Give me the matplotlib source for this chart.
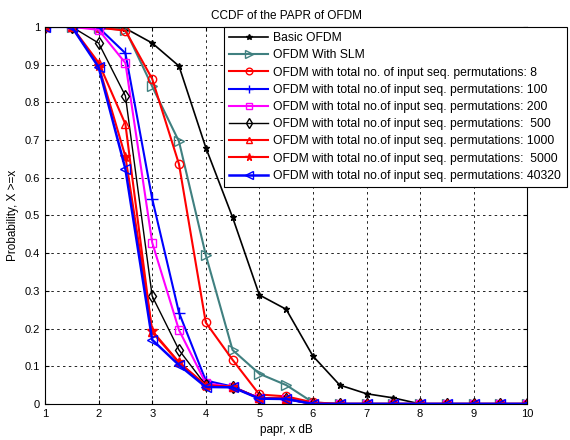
import matplotlib
matplotlib.use("Agg")
import matplotlib.pyplot as plt

x = [1, 1.5, 2, 2.5, 3, 3.5, 4, 4.5, 5, 5.5, 6, 6.5, 7, 7.5, 8, 8.5, 9, 9.5, 10]

basic = [1, 1, 1, 0.996, 0.957, 0.896, 0.68, 0.495, 0.289, 0.251, 0.127, 0.05, 0.027, 0.016, 0, 0, 0, 0, 0]
slm = [1, 1, 0.997, 0.992, 0.842, 0.696, 0.395, 0.143, 0.08, 0.05, 0.004, 0, 0, 0, 0, 0, 0, 0, 0]
p8 = [1, 1, 0.998, 0.99, 0.862, 0.636, 0.216, 0.117, 0.025, 0.02, 0.004, 0, 0, 0, 0, 0, 0, 0, 0]
p100 = [1, 1, 0.998, 0.93, 0.544, 0.242, 0.062, 0.046, 0.015, 0.013, 0, 0, 0, 0, 0, 0, 0, 0, 0]
p200 = [1, 1, 0.992, 0.904, 0.428, 0.196, 0.055, 0.045, 0.015, 0.014, 0, 0, 0, 0, 0, 0, 0, 0, 0]
p500 = [1, 1, 0.957, 0.817, 0.286, 0.143, 0.05, 0.045, 0.015, 0.014, 0, 0, 0, 0, 0, 0, 0, 0, 0]
p1000 = [1, 1, 0.905, 0.742, 0.19, 0.11, 0.05, 0.045, 0.015, 0.014, 0, 0, 0, 0, 0, 0, 0, 0, 0]
p5000 = [1, 1, 0.897, 0.656, 0.194, 0.11, 0.048, 0.045, 0.015, 0.014, 0, 0, 0, 0, 0, 0, 0, 0, 0]
p40320 = [1, 1, 0.893, 0.623, 0.17, 0.103, 0.045, 0.044, 0.014, 0.013, 0, 0, 0, 0, 0, 0, 0, 0, 0]

labels = ["Basic OFDM", "OFDM With SLM",
          "OFDM with total no. of input seq. permutations: 8",
          "OFDM with total no.of input seq. permutations: 100",
          "OFDM with total no.of input seq. permutations: 200",
          "OFDM with total no.of input seq. permutations:  500",
          "OFDM with total no.of input seq. permutations: 1000",
          "OFDM with total no.of input seq. permutations:  5000",
          "OFDM with total no.of input seq. permutations: 40320"]

plt.rcParams['font.family'] = ['Liberation Sans', 'DejaVu Sans']
fig = plt.figure(figsize=(5.7, 4.4), dpi=100)
ax = fig.add_axes([0.079, 0.082, 0.846, 0.857])

teal = '#408080'
series = [
    (basic, dict(color='k', marker='*', ms=5, lw=1.2)),
    (slm, dict(color=teal, marker='>', ms=7, mfc='none', lw=1.5)),
    (p8, dict(color='r', marker='o', ms=6, mfc='none', lw=1.5)),
    (p100, dict(color='b', marker='+', ms=8, lw=1.5)),
    (p200, dict(color='magenta', marker='s', ms=6, mfc='none', lw=1.5)),
    (p500, dict(color='k', marker='d', ms=6, mfc='none', lw=1.0)),
    (p1000, dict(color='r', marker='^', ms=6, mfc='none', lw=1.5)),
    (p5000, dict(color='r', marker='*', ms=7, lw=1.5)),
    (p40320, dict(color='b', marker='<', ms=7, mfc='none', lw=1.8)),
]
for (y, kw), lab in zip(series, labels):
    ax.plot(x, y, label=lab, **kw)

ax.set_xlim(1, 10)
ax.set_ylim(0, 1)
ax.set_xticks(range(1, 11))
ax.set_yticks([i / 10 for i in range(11)])
ax.set_yticklabels(["0"] + ["%.1f" % (i / 10) for i in range(1, 10)] + ["1"])
ax.tick_params(labelsize=8, direction='in', length=3, top=True, right=True)
ax.grid(True, color='k', linestyle=(0, (3, 4)), linewidth=0.6)
ax.set_title("CCDF of the PAPR of OFDM", fontsize=8.5)
ax.set_xlabel("papr, x dB", fontsize=8.5)
ax.set_ylabel("Probability, X >=x", fontsize=8.5)
leg = ax.legend(loc='upper left', bbox_to_anchor=(0.371, 1.0), fontsize=8.7,
                fancybox=False, edgecolor='k', framealpha=1, handlelength=3.2,
                handletextpad=0.45, borderpad=0.45, labelspacing=0.43,
                borderaxespad=0, markerscale=0.8)
leg.get_frame().set_linewidth(0.8)
fig.savefig("out.png", dpi=100)
